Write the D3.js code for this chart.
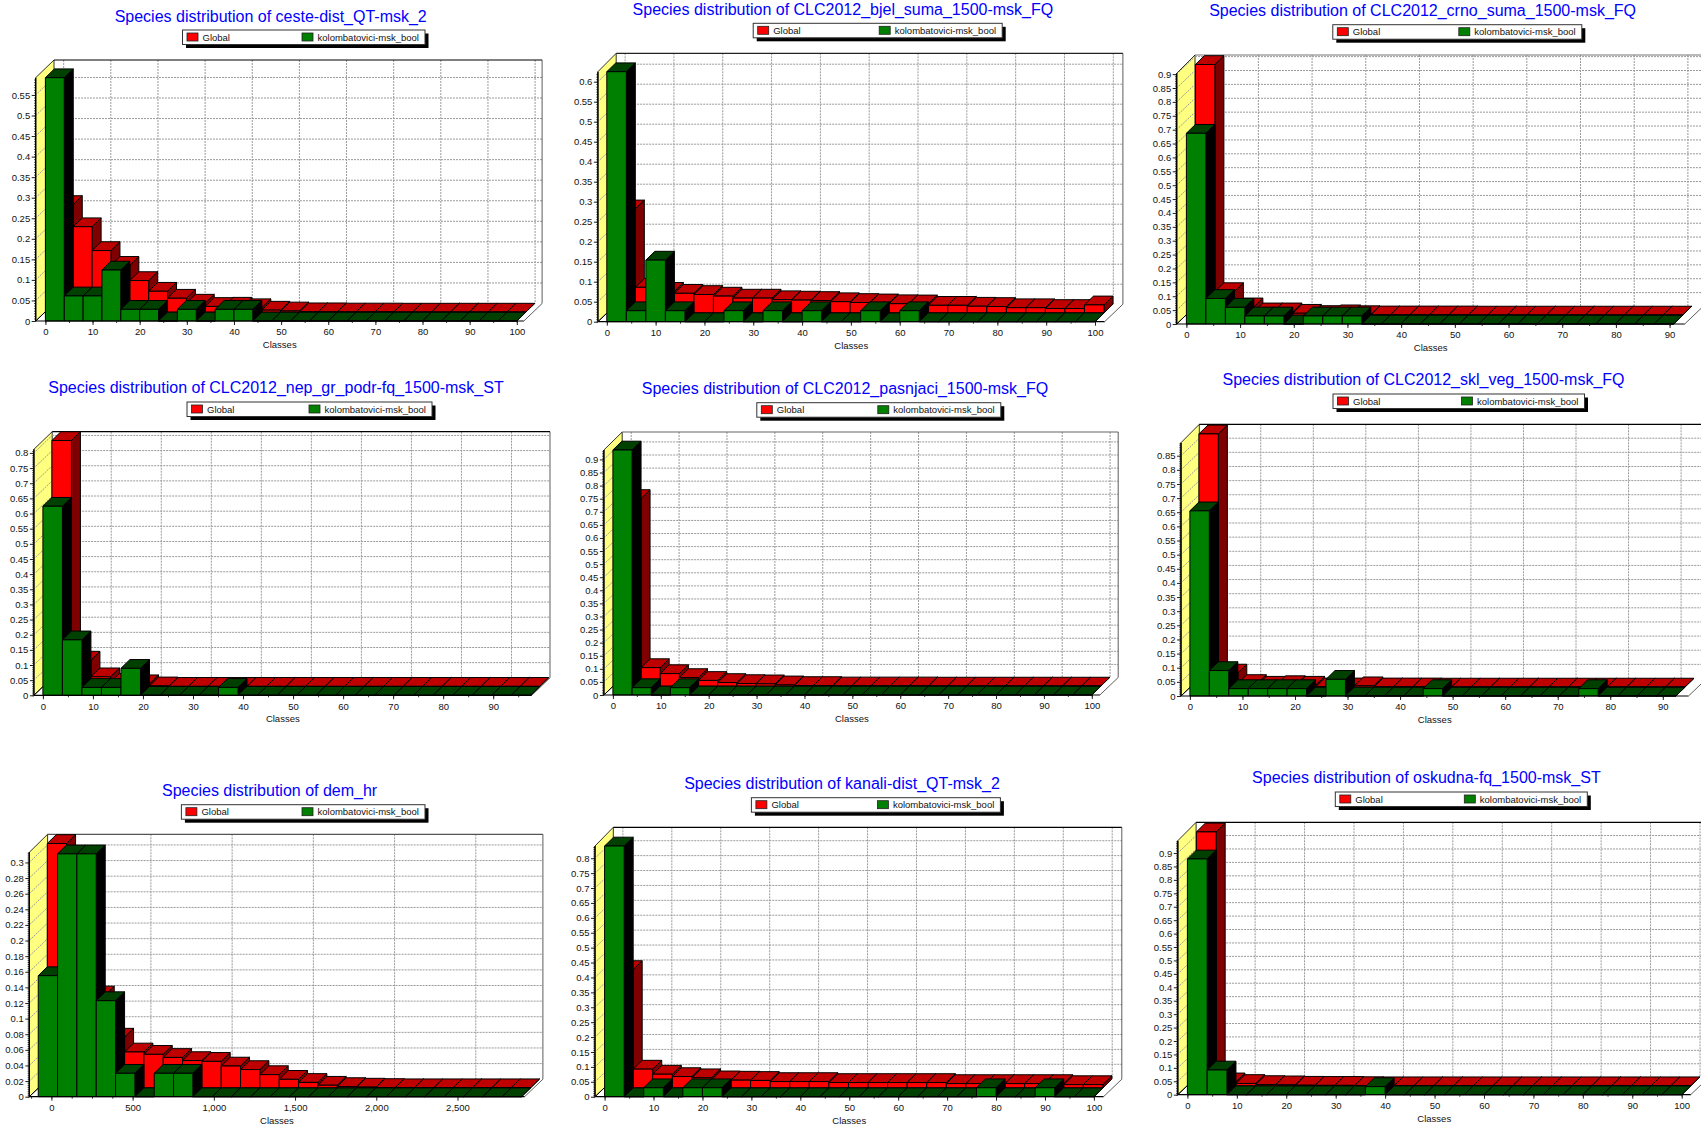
<!DOCTYPE html>
<html>
<head>
<meta charset="utf-8">
<script src="https://cdn.jsdelivr.net/npm/d3@7"></script>
<style>
html,body{margin:0;padding:0;background:#fff;overflow:hidden}
svg{display:block}
text{font-family:"Liberation Sans",Arial,sans-serif}
</style>
</head>
<body>
<svg id="chart" width="1701" height="1126"></svg>
<script>
// ---------- values ----------
const seriesNames = ["Global", "kolombatovici-msk_bool"];
const titles = [
  "Species distribution of ceste-dist_QT-msk_2",
  "Species distribution of CLC2012_bjel_suma_1500-msk_FQ",
  "Species distribution of CLC2012_crno_suma_1500-msk_FQ",
  "Species distribution of CLC2012_nep_gr_podr-fq_1500-msk_ST",
  "Species distribution of CLC2012_pasnjaci_1500-msk_FQ",
  "Species distribution of CLC2012_skl_veg_1500-msk_FQ",
  "Species distribution of dem_hr",
  "Species distribution of kanali-dist_QT-msk_2",
  "Species distribution of oskudna-fq_1500-msk_ST"
];
const axisTitle = "Classes";

const globalCeste = [.262,.208,.150,.114,.077,.051,.034,.022,.014,.0146,.011,.005,.003,.001,.001,.0005,.0005,.0005,.0002,.0002,.0002,.0002,.0002,.0002,.0002];
const localCeste  = [.592,.061,.061,.124,.0284,.0284,0,.0284,0,.0284,.0284,0,0,0,0,0,0,0,0,0,0,0,0,0,0];

const globalBjel = [.26,.064,.054,.049,.046,.042,.037,.037,.033,.032,.031,.028,.026,.025,.023,.0225,.019,.019,.0167,.016,.013,.013,.011,.011,.02];
const localBjel  = [.625,.0275,.154,.0275,0,0,.0275,0,.0275,0,.0275,0,0,.0275,0,.0275,0,0,0,0,0,0,0,0,0];

const globalCrno = [.903,.085,.03,.012,.012,.007,.0025,.005,.002,.001,.001,.001,.001,.001,.0005,.0005,.0005,.0005,.0005,.0005,.0005,.0005,.0005,.0005,.0005];
const localCrno  = [.687,.092,.06,.029,.029,0,.029,.029,.029,0,0,0,0,0,0,0,0,0,0,0,0,0,0,0,0];

const globalNep = [.812,.087,.032,.014,.009,.002,.0005,.0005,.0005,.0005,.0005,.0005,.0005,.0005,.0005,.0005,.0005,.0005,.0005,.0005,.0005,.0005,.0005,.0005,.0005];
const localNep  = [.624,.183,.026,.026,.089,0,0,0,0,.026,0,0,0,0,0,0,0,0,0,0,0,0,0,0,0];

const globalPas = [.717,.071,.048,.033,.022,.014,.01,.009,.005,.0025,.0025,.001,.001,.001,.001,.001,.0005,.0005,.0005,.0005,.0005,.0005,.0005,.0005,.0005];
const localPas  = [.936,.028,0,.028,0,0,0,0,0,0,0,0,0,0,0,0,0,0,0,0,0,0,0,0,0];

const globalSkl = [.896,.05,.013,.007,.009,.007,.001,.001,.005,.001,.001,.001,.0005,.0005,.0005,.0005,.0005,.0005,.0005,.0005,.0005,.0005,.0005,.0005,.0005];
const localSkl  = [.655,.09,.026,.026,.026,.026,0,.059,0,0,0,0,.026,0,0,0,0,0,0,0,.026,0,0,0,0];

const globalDem = [.313,.19,.119,.065,.046,.043,.039,.035,.034,.028,.0235,.017,.011,.007,.0034,.0017,.001,.0005,.0002,.0002,.0002,.0002,.0002,.0002,.0002];
const localDem  = [.155,.311,.311,.123,.03,0,.03,.03,0,0,0,0,0,0,0,0,0,0,0,0,0,0,0,0,0];

const globalKan = [.397,.063,.046,.038,.034,.027,.026,.025,.0213,.0213,.0213,.018,.018,.018,.018,.018,.018,.0145,.0145,.0145,.0145,.0145,.0145,.011,.011];
const localKan  = [.841,0,.03,0,.03,.03,0,0,0,0,0,0,0,0,0,0,0,0,0,.03,0,0,.03,0,0];

const globalOsk = [.946,.015,.009,.005,.004,.0025,.002,.002,.001,.0005,.0005,.0005,.0005,.0005,.0005,.0005,.0005,.0005,.0005,.0005,.0005,.0005,.0005,.0005,.0005];
const localOsk  = [.878,.092,0,0,0,0,0,0,0,.03,0,0,0,0,0,0,0,0,0,0,0,0,0,0,0];

const globals = [globalCeste, globalBjel, globalCrno, globalNep, globalPas, globalSkl, globalDem, globalKan, globalOsk];
const locals  = [localCeste, localBjel, localCrno, localNep, localPas, localSkl, localDem, localKan, localOsk];

const binStarts = [0, 0, 0, 0, 0, 0, -81, 0, 0];
const binWidths = [4, 4, 3.63, 3.9, 4, 3.7, 119, 4, 4];
const yTickTops = [.55, .6, .9, .8, .9, .85, .3, .8, .9];
const yTickSteps = [.05, .05, .05, .05, .05, .05, .02, .05, .05];
const xTickTops = [100, 100, 90, 90, 100, 90, 2500, 100, 100];
const xTickSteps = [10, 10, 10, 10, 10, 10, 500, 10, 10];
const xMinorSteps = [5, 5, 5, 5, 5, 5, 125, 5, 5];

// ---------- layout (pixels) ----------
const layout = [
 {axisL:35.7,  base:321,    top:77.7,  x0:45.4,   xRef:516.8,  backR:542.1,  backTop:60,    tx:270.7,  ty:16,    lx:182.5,  ly:30,    lw:242.5, lh:14.5, frame:"#000"},
 {axisL:597.9, base:321.7,  top:71.7,  x0:606.8,  xRef:1095,   backR:1122.9, backTop:53.3,  tx:842.9,  ty:9.3,   lx:753.2,  ly:23.3,  lw:249,   lh:14.5, frame:"#222"},
 {axisL:1176.7,base:324,    top:73.3,  x0:1186.4, xRef:1669.6, backR:1703,   backTop:55,    tx:1422.6, ty:10,    lx:1332.8, ly:24.7,  lw:249,   lh:14.5, frame:"#777"},
 {axisL:33.9,  base:695.3,  top:449.3, x0:42.9,   xRef:493.2,  backR:550,    backTop:431.7, tx:276,    ty:387.3, lx:187,    ly:402,   lw:245,   lh:14.5, frame:"#000"},
 {axisL:603.9, base:695,    top:450,   x0:612.9,  xRef:1091.8, backR:1118.2, backTop:432,   tx:845,    ty:388.3, lx:756.8,  ly:402.7, lw:244,   lh:14.5, frame:"#666"},
 {axisL:1181,  base:696,    top:442.7, x0:1189.9, xRef:1662.8, backR:1706.8, backTop:424.3, tx:1423.5, ty:379,   lx:1333,   ly:394,   lw:251.5, lh:14.5, frame:"#000"},
 {axisL:29.3,  base:1096.7, top:852.3, x0:51.4,   xRef:457.5,  backR:542.9,  backTop:834.3, tx:269.6,  ty:790,   lx:181.4,  ly:804.7, lw:243.6, lh:14.5, frame:"#555"},
 {axisL:595,   base:1096.7, top:846,   x0:604.6,  xRef:1093.9, backR:1121.8, backTop:827.3, tx:842,    ty:783.3, lx:751.4,  ly:797.7, lw:249,   lh:14.5, frame:"#000"},
 {axisL:1177.8,base:1094.7, top:840.7, x0:1187.4, xRef:1681.7, backR:1709,   backTop:822.3, tx:1426.4, ty:777.3, lx:1335.3, ly:792,   lw:252,   lh:14.5, frame:"#000"}
];
const wallDX = 18.3, wallDY = 17.5, rowDX = 9, rowDY = 8.8;
const redFaces = {front:"#ff0000", top:"#bf0000", side:"#7f0000"};
const greenFaces = {front:"#008000", top:"#004000", side:"#000000"};
const gridColor = "#9a9a9a";

const svg = d3.select("#chart");
const polyPoints = pts => pts.map(p => p.join(",")).join(" ");

function drawPanel(i) {
  const L = layout[i];
  const g = svg.append("g");
  const gVals = globals[i], lVals = locals[i];
  const x = d3.scaleLinear().domain([0, xTickTops[i]]).range([L.x0, L.xRef]);
  const y = d3.scaleLinear().domain([0, d3.max([...gVals, ...lVals])]).range([L.base, L.top]);
  const backBase = L.base - wallDY, floorR = L.backR - wallDX;
  const yTicks = d3.range(0, Math.round(yTickTops[i] / yTickSteps[i]) + 1).map(k => +(k * yTickSteps[i]).toFixed(3));
  const xTicks = d3.range(0, xTickTops[i] + 1, xTickSteps[i]);
  const xMinor = d3.range(0, L.backR, xMinorSteps[i]).filter(v => x(v) < floorR);
  if (i === 6) xMinor.push(-125);

  // back wall + floor
  g.append("polygon").attr("fill", "#fff").attr("points", polyPoints([[L.axisL + wallDX, L.backTop], [L.backR, L.backTop], [L.backR, backBase], [floorR, L.base], [L.axisL, L.base]]));
  // left wall
  g.append("polygon").attr("fill", "#ffff80").attr("stroke", "#000").attr("stroke-width", 0.8)
    .attr("points", polyPoints([[L.axisL, L.top], [L.axisL + wallDX, L.backTop], [L.axisL + wallDX, backBase], [L.axisL, L.base]]));

  // grid
  const grid = g.append("g").attr("stroke", gridColor).attr("stroke-width", 1).attr("stroke-dasharray", "2 1").attr("fill", "none");
  grid.selectAll(".h").data(yTicks.slice(1)).join("line")
    .attr("x1", L.axisL + wallDX).attr("x2", L.backR)
    .attr("y1", d => y(d) - wallDY).attr("y2", d => y(d) - wallDY);
  grid.selectAll(".d").data(yTicks.slice(1)).join("line").attr("class", "d")
    .attr("x1", L.axisL).attr("x2", L.axisL + wallDX)
    .attr("y1", d => y(d)).attr("y2", d => y(d) - wallDY);
  grid.selectAll(".v").data(xTicks).join("line").attr("class", "v")
    .attr("x1", d => x(d) + wallDX).attr("x2", d => x(d) + wallDX)
    .attr("y1", L.backTop).attr("y2", backBase);

  // frame
  const frame = g.append("g").attr("fill", "none");
  frame.append("polyline").attr("stroke", L.frame).attr("stroke-width", 1.2)
    .attr("points", polyPoints([[L.axisL + wallDX, L.backTop], [L.backR, L.backTop]]));
  frame.append("polyline").attr("stroke", "#333").attr("stroke-width", 0.8)
    .attr("points", polyPoints([[L.backR, L.backTop], [L.backR, backBase], [floorR, L.base]]));
  frame.append("line").attr("stroke", "#000").attr("stroke-width", 1)
    .attr("x1", L.axisL).attr("y1", L.base).attr("x2", L.axisL + wallDX).attr("y2", backBase);

  // bars: back row first, each row left to right
  const rows = [
    {vals: gVals, dx: rowDX, dy: rowDY, faces: redFaces},
    {vals: lVals, dx: 0, dy: 0, faces: greenFaces}
  ];
  rows.forEach(row => {
    const binPx = v => x(v) + row.dx;
    row.vals.forEach((v, k) => {
      const xa = binPx(binStarts[i] + k * binWidths[i]);
      const xb = binPx(binStarts[i] + (k + 1) * binWidths[i]);
      const yb = y(0) - row.dy, yt = y(v) - row.dy;
      const bar = g.append("g").attr("stroke", "#000").attr("stroke-width", 1).attr("stroke-linejoin", "round");
      bar.append("polygon").attr("fill", row.faces.side)
        .attr("points", polyPoints([[xb, yt], [xb + rowDX, yt - rowDY], [xb + rowDX, yb - rowDY], [xb, yb]]));
      bar.append("polygon").attr("fill", row.faces.top)
        .attr("points", polyPoints([[xa, yt], [xa + rowDX, yt - rowDY], [xb + rowDX, yt - rowDY], [xb, yt]]));
      bar.append("polygon").attr("fill", row.faces.front)
        .attr("points", polyPoints([[xa, yt], [xb, yt], [xb, yb], [xa, yb]]));
    });
  });

  // axes
  const yAxis = d3.axisLeft(y).tickValues(yTicks).tickFormat(d3.format(".2~f")).tickSize(4).tickPadding(1.5);
  const yG = g.append("g").attr("transform", `translate(${L.axisL},0)`).call(yAxis);
  const yMinorVals = d3.range(0, y.domain()[1], yTickSteps[i] / 8);
  const yMinorG = g.append("g").attr("transform", `translate(${L.axisL},0)`)
    .call(d3.axisLeft(y).tickValues(yMinorVals).tickFormat("").tickSize(1.6).tickSizeOuter(0));
  const xG = g.append("g").attr("transform", `translate(0,${L.base})`)
    .call(d3.axisBottom(x).tickValues(xTicks).tickFormat(d3.format(",")).tickSize(4).tickPadding(3.5));
  const xMinorG = g.append("g").attr("transform", `translate(0,${L.base})`)
    .call(d3.axisBottom(x).tickValues(xMinor).tickFormat("").tickSize(2).tickSizeOuter(0));
  [yG, yMinorG, xG, xMinorG].forEach(a => a.select(".domain").remove());
  [yG, xG].forEach(a => {
    a.selectAll("text").attr("font-size", 9.5).attr("fill", "#111").style("font-family", '"Liberation Sans",Arial,sans-serif');
    a.selectAll("line").attr("stroke", "#222");
  });
  [yMinorG, xMinorG].forEach(a => a.selectAll("line").attr("stroke", "#222").attr("stroke-width", 0.9));
  g.append("line").attr("stroke", "#000").attr("stroke-width", 1.4)
    .attr("x1", L.axisL).attr("x2", L.axisL).attr("y1", L.top).attr("y2", L.base);
  g.append("line").attr("stroke", "#000").attr("stroke-width", 1.2)
    .attr("x1", L.axisL).attr("x2", floorR).attr("y1", L.base).attr("y2", L.base);

  // axis title
  g.append("text").attr("x", (L.axisL + floorR) / 2).attr("y", L.base + 27)
    .attr("text-anchor", "middle").attr("font-size", 9.5).attr("fill", "#111").text(axisTitle);

  // chart title
  g.append("text").attr("x", L.tx).attr("y", L.ty).attr("dy", "0.36em")
    .attr("text-anchor", "middle").attr("font-size", 16).attr("fill", "#0000ff").text(titles[i]);

  // legend
  const lg = g.append("g").attr("transform", `translate(${L.lx},${L.ly})`);
  lg.append("rect").attr("x", 3.5).attr("y", 3.5).attr("width", L.lw).attr("height", L.lh).attr("fill", "#000");
  lg.append("rect").attr("width", L.lw).attr("height", L.lh).attr("fill", "#fff").attr("stroke", "#333").attr("stroke-width", 1);
  const swatchX = [4.5, L.lw - 123];
  const legendColors = [redFaces.front, greenFaces.front];
  seriesNames.forEach((name, k) => {
    lg.append("rect").attr("x", swatchX[k]).attr("y", 3).attr("width", 11).attr("height", 8)
      .attr("fill", legendColors[k]).attr("stroke", "#222").attr("stroke-width", 0.8);
    lg.append("text").attr("x", swatchX[k] + 15.5).attr("y", 7.3).attr("dy", "0.36em")
      .attr("font-size", 9.5).attr("fill", "#111").text(name);
  });
}
titles.forEach((t, i) => drawPanel(i));
</script>
</body>
</html>
